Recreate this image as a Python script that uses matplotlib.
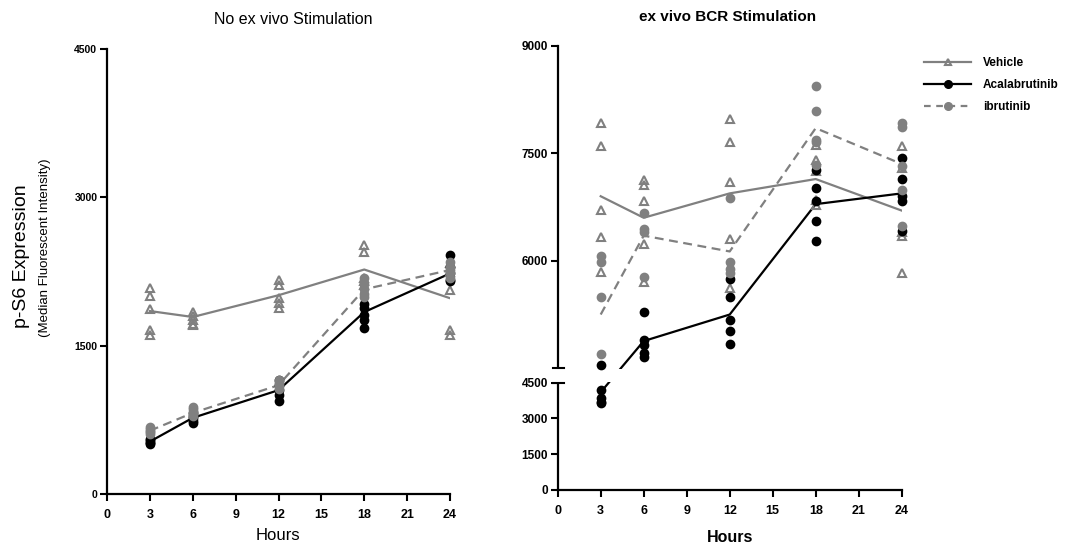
import numpy as np
import matplotlib
matplotlib.use('Agg')
import matplotlib.pyplot as plt
from matplotlib.lines import Line2D
from matplotlib.patches import Rectangle

plt.rcParams['font.family'] = ['Liberation Sans', 'DejaVu Sans']

GRAY = '#808080'

hours = [3, 6, 12, 18, 24]

# no ex vivo stimulation (left)
L_vehicle = [[2080, 2000, 1870, 1660, 1610], [1840, 1800, 1760, 1720, 1710],
             [2160, 2110, 1980, 1930, 1880], [2520, 2450, 2180, 2150, 2110],
             [2340, 2250, 2060, 1660, 1610]]
L_vehicle_mean = [1850, 1790, 2010, 2270, 1980]
L_acala = [[560, 545, 530, 520, 505], [820, 790, 770, 740, 715],
           [1150, 1100, 1050, 1000, 945], [1920, 1880, 1810, 1760, 1675],
           [2415, 2300, 2230, 2165, 2150]]
L_acala_mean = [530, 770, 1050, 1840, 2230]
L_ibru = [[680, 660, 640, 625, 610], [880, 860, 830, 810, 790],
          [1150, 1130, 1110, 1090, 1060], [2180, 2120, 2070, 2020, 1990],
          [2350, 2300, 2270, 2230, 2180]]
L_ibru_mean = [640, 820, 1100, 2070, 2265]

# ex vivo BCR stimulation (right)
R_vehicle = [[7920, 7600, 6710, 6330, 5840], [7130, 7050, 6830, 6240, 5710],
             [7980, 7660, 7100, 6300, 5620], [7620, 7400, 7250, 6850, 6780],
             [7600, 7300, 6400, 6340, 5830]]
R_vehicle_mean = [6900, 6600, 6940, 7140, 6700]
R_acala = [[4550, 4190, 3850, 3700, 3640], [5280, 4900, 4820, 4710, 4660],
           [5750, 5490, 5180, 5020, 4840], [7270, 7020, 6830, 6550, 6270],
           [7430, 7140, 6900, 6840, 6410]]
R_acala_mean = [4100, 4880, 5250, 6790, 6940]
R_ibru = [[6060, 5980, 5500, 4700], [6660, 6450, 6400, 5780],
          [6880, 5980, 5880, 5830], [8440, 8090, 7690, 7660, 7340],
          [7920, 7860, 7320, 6990, 6480]]
R_ibru_mean = [5250, 6350, 6130, 7850, 7350]

x_ticks = [0, 3, 6, 9, 12, 15, 18, 21, 24]
left_yticks = [0, 1500, 3000, 4500]
right_yticks = [0, 1500, 3000, 4500, 6000, 7500, 9000]
labels = ['Vehicle', 'Acalabrutinib', 'ibrutinib']

# broken y scale of the right panel (pixel heights of the pieces)
HB, GAP, HT = 107.3, 14.4, 322.6
BREAK = 4500.0


def fwd(v):
    v = np.asarray(v, dtype=float)
    return np.where(v <= BREAK, v * HB / BREAK, HB + GAP + (v - BREAK) * HT / BREAK)


def inv(s):
    s = np.asarray(s, dtype=float)
    return np.where(s <= HB, s * BREAK / HB,
                    np.where(s < HB + GAP, BREAK, BREAK + (s - HB - GAP) * BREAK / HT))


def draw_group(ax, pts, means, color, marker, mfc, ls):
    for h, p in zip(hours, pts):
        ax.plot([h] * len(p), p, ls='none', marker=marker, ms=6 if marker == '^' else 5.5,
                mfc=mfc, mec=color, mew=1.5, zorder=4, clip_on=False)
    line, = ax.plot(hours, means, color=color, lw=1.6, zorder=2)
    if ls == '--':
        line.set_dashes((4, 2.5))


def style_axis(ax, ytick_size):
    for s in ['top', 'right']:
        ax.spines[s].set_visible(False)
    ax.spines['left'].set_linewidth(1.6)
    ax.spines['bottom'].set_linewidth(1.6)
    ax.set_xlim(0, 24)
    ax.set_xticks(x_ticks)
    ax.tick_params(axis='both', direction='out', length=5, width=1.5)
    ax.tick_params(axis='x', labelsize=9, pad=6)
    ax.tick_params(axis='y', labelsize=ytick_size, pad=2)


fig = plt.figure(figsize=(10.75, 5.5), dpi=100)

# left panel
ax1 = fig.add_axes([107 / 1075, 56 / 550, 343 / 1075, 445 / 550])
draw_group(ax1, L_vehicle, L_vehicle_mean, GRAY, '^', 'none', '-')
draw_group(ax1, L_acala, L_acala_mean, 'black', 'o', 'black', '-')
draw_group(ax1, L_ibru, L_ibru_mean, GRAY, 'o', GRAY, '--')
ax1.set_ylim(0, 4500)
ax1.set_yticks(left_yticks)
style_axis(ax1, 7.5)
ax1.set_yticklabels([str(t) for t in left_yticks], fontweight='bold')
ax1.set_xticklabels([str(t) for t in x_ticks], fontweight='bold')

# right panel with broken axis
ax2 = fig.add_axes([557.7 / 1075, 60 / 550, 344 / 1075, 444.3 / 550])
ax2.set_yscale('function', functions=(fwd, inv))
draw_group(ax2, R_vehicle, R_vehicle_mean, GRAY, '^', 'none', '-')
draw_group(ax2, R_acala, R_acala_mean, 'black', 'o', 'black', '-')
draw_group(ax2, R_ibru, R_ibru_mean, GRAY, 'o', GRAY, '--')
ax2.set_ylim(0, 9000)
ax2.set_yticks(right_yticks)
ax2.minorticks_off()
style_axis(ax2, 8.5)
ax2.set_yticklabels([str(t) for t in right_yticks], fontweight='bold')
ax2.set_xticklabels([str(t) for t in x_ticks], fontweight='bold')

tot = HB + GAP + HT
y_lo, y_hi = HB / tot, (HB + GAP) / tot
ax2.add_patch(Rectangle((-0.03, y_lo + 0.002), 1.05, y_hi - y_lo - 0.004, transform=ax2.transAxes,
                        facecolor='white', edgecolor='none', zorder=3, clip_on=False))
for yb in (y_lo, y_hi):
    ax2.plot([-0.0145, 0.0175], [yb, yb], color='black', lw=1.5, transform=ax2.transAxes,
             clip_on=False, zorder=5)

handles = [Line2D([], [], color=GRAY, lw=1.6, marker='^', ms=5, mfc='none', mec=GRAY, mew=1.5),
           Line2D([], [], color='black', lw=1.6, marker='o', ms=5.5, mfc='black', mec='black'),
           Line2D([], [], color=GRAY, lw=1.6, ls=(0, (3, 2.5)), marker='o', ms=5.5, mfc=GRAY, mec=GRAY)]
fig.legend(handles, labels, loc='upper left', bbox_to_anchor=(918 / 1075, 1 - 51 / 550),
           frameon=False, handlelength=4.0, labelspacing=0.85, borderpad=0, handletextpad=1.0,
           prop={'weight': 'bold', 'size': 8.5})

# titles and axis labels
fig.text(293 / 1075, 1 - 20 / 550, 'No ex vivo Stimulation', ha='center', va='center', fontsize=11.5)
fig.text(728 / 1075, 1 - 17 / 550, 'ex vivo BCR Stimulation', ha='center', va='center',
         fontsize=11, fontweight='bold')
fig.text(22 / 1075, 1 - 256 / 550, 'p-S6 Expression', rotation=90, ha='center', va='center', fontsize=14)
fig.text(45 / 1075, 1 - 248 / 550, '(Median Fluorescent Intensity)', rotation=90, ha='center',
         va='center', fontsize=9.5)
fig.text(278 / 1075, 1 - 536 / 550, 'Hours', ha='center', va='center', fontsize=12)
fig.text(730 / 1075, 1 - 538 / 550, 'Hours', ha='center', va='center', fontsize=11.5, fontweight='bold')

fig.savefig('out.png', dpi=100)
